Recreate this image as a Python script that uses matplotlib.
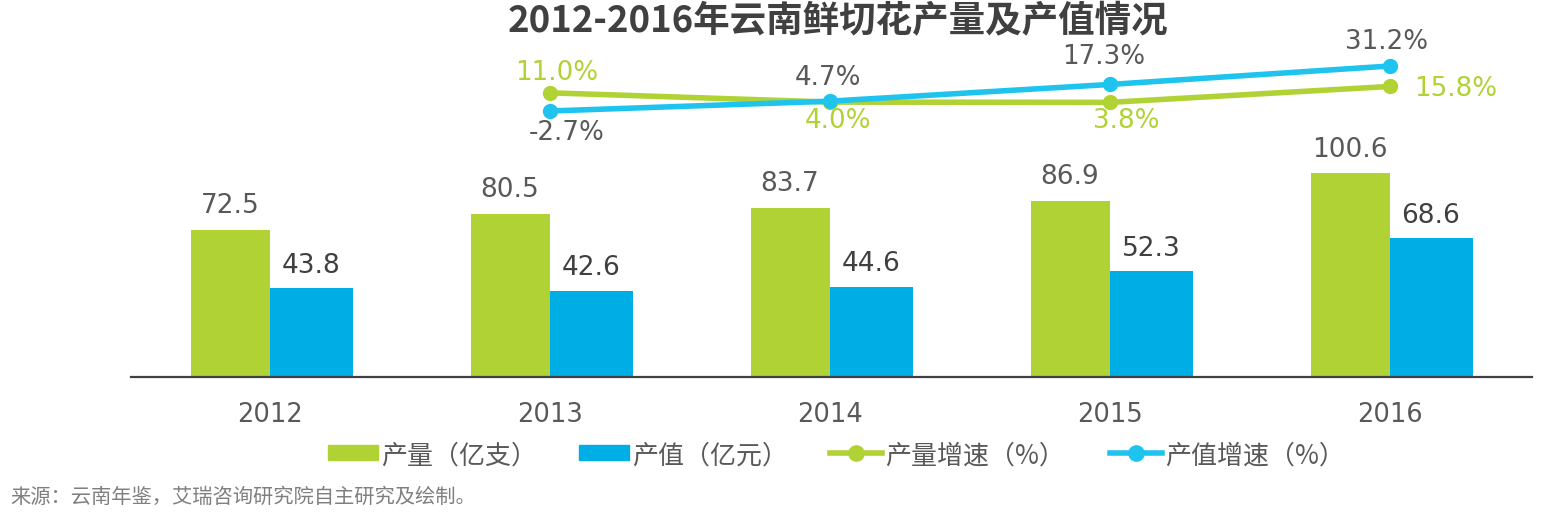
import matplotlib
matplotlib.use('Agg')
import matplotlib.pyplot as plt
from matplotlib.lines import Line2D
from matplotlib.patches import Rectangle

plt.rcParams['font.family'] = ['Noto Sans CJK SC', 'DejaVu Sans']

years = ['2012', '2013', '2014', '2015', '2016']
output = [72.5, 80.5, 83.7, 86.9, 100.6]
value = [43.8, 42.6, 44.6, 52.3, 68.6]
output_growth = [11.0, 4.0, 3.8, 15.8]
value_growth = [-2.7, 4.7, 17.3, 31.2]
title = '2012-2016年云南鲜切花产量及产值情况'
source = '来源：云南年鉴，艾瑞咨询研究院自主研究及绘制。'
names = ['产量（亿支）', '产值（亿元）', '产量增速（%）', '产值增速（%）']

GREEN = '#B0D235'
BLUE = '#00AEE6'
LBLUE = '#1FC4EE'
NUM = ['DejaVu Sans']
W, H = 1552, 516
fig = plt.figure(figsize=(W/100, H/100), dpi=100)

ax = fig.add_axes([131/W, 1-377/H, (1532-131)/W, 250/H])
px_per_cat = 280
x0 = (131-270)/px_per_cat
ax.set_xlim(x0, x0+(1532-131)/px_per_cat)
ax.set_ylim(0, 250/2.025)
xs = list(range(5))
bw1 = 79/px_per_cat
bw2 = 83/px_per_cat
ax.bar([x-bw1/2 for x in xs], output, bw1, color=GREEN)
ax.bar([x+bw2/2 for x in xs], value, bw2, color=BLUE)
for x, a, b in zip(xs, output, value):
    ax.text(x-40/px_per_cat, a+5.3, f'{a:.1f}', ha='center', va='bottom', fontsize=19, color='#595959', family=NUM)
    ax.text(x+41/px_per_cat, b+4.6, f'{b:.1f}', ha='center', va='bottom', fontsize=19, color='#404040', family=NUM)
for s in ['top', 'left', 'right']:
    ax.spines[s].set_visible(False)
ax.spines['bottom'].set_linewidth(1.6)
ax.spines['bottom'].set_color('#404040')
ax.set_yticks([])
ax.set_xticks(xs, years)
ax.tick_params(axis='x', length=0, pad=18, labelsize=18.5, labelcolor='#595959')
for t in ax.get_xticklabels():
    t.set_family(NUM)

ax2 = fig.add_axes([131/W, 1-377/H, (1532-131)/W, 377/H], sharex=ax)
ax2.patch.set_alpha(0)
ax2.axis('off')
scale = (111-66)/(31.2+2.7)
ax2.set_ylim(-2.7-(377-111)/scale, -2.7+111/scale)
gx = [1, 2, 3, 4]
ax2.plot(gx, output_growth, color=GREEN, lw=4, marker='o', ms=10, solid_capstyle='round')
ax2.plot(gx, value_growth, color=LBLUE, lw=4, marker='o', ms=10, solid_capstyle='round')

def lab(xpx, ypx, s, c):
    fig.text(xpx/W, 1-(ypx+1)/H, s, ha='center', va='center', fontsize=18.8, color=c, family=NUM)
lab(557, 72, '11.0%', GREEN)
lab(838, 120, '4.0%', GREEN)
lab(1126, 120, '3.8%', GREEN)
lab(1456, 88, '15.8%', GREEN)
lab(567, 132, '-2.7%', '#595959')
lab(828, 77, '4.7%', '#595959')
lab(1104, 56, '17.3%', '#595959')
lab(1387, 41, '31.2%', '#595959')

fig.text(838/W, 1-22/H, title, ha='center', va='center', fontsize=26.3, fontweight='bold', color='#404040')
fig.text(10/W, 1-497/H, source, ha='left', va='center', fontsize=14.6, color='#7F7F7F')

def lx(a): return a/W
def ly(a): return 1-a/H
fig.add_artist(Rectangle((lx(328), ly(460)), 50/W, 15/H, color=GREEN, transform=fig.transFigure))
fig.add_artist(Rectangle((lx(579), ly(460)), 50/W, 15/H, color=BLUE, transform=fig.transFigure))
fig.add_artist(Line2D([lx(830), lx(882)], [ly(453)]*2, color=GREEN, lw=4, transform=fig.transFigure))
fig.add_artist(Line2D([lx(856)], [ly(453)], color=GREEN, marker='o', ms=11, transform=fig.transFigure))
fig.add_artist(Line2D([lx(1110), lx(1162)], [ly(453)]*2, color=LBLUE, lw=4, transform=fig.transFigure))
fig.add_artist(Line2D([lx(1136)], [ly(453)], color=LBLUE, marker='o', ms=11, transform=fig.transFigure))
for xp, s in zip([381, 632, 885, 1165], names):
    fig.text(xp/W, 1-456/H, s, ha='left', va='center', fontsize=18.7, color='#595959')

fig.savefig('out.png', dpi=100)
